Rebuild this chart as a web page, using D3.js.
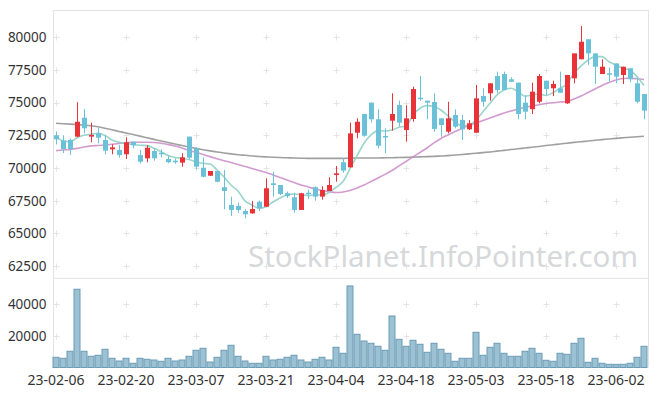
<!DOCTYPE html>
<html>
<head>
<meta charset="utf-8">
<script src="https://cdn.jsdelivr.net/npm/d3@7"></script>
<style>
  html, body { margin: 0; padding: 0; background: #fff; }
  svg { display: block; font-family: "Noto Sans", "Open Sans", sans-serif; }
</style>
</head>
<body>
<div id="chart"></div>
<script>
const dates = ["23-02-06","23-02-07","23-02-08","23-02-09","23-02-10","23-02-13","23-02-14","23-02-15","23-02-16","23-02-17",
  "23-02-20","23-02-21","23-02-22","23-02-23","23-02-24","23-02-27","23-02-28","23-03-02","23-03-03","23-03-06",
  "23-03-07","23-03-08","23-03-09","23-03-10","23-03-13","23-03-14","23-03-15","23-03-16","23-03-17","23-03-20",
  "23-03-21","23-03-22","23-03-23","23-03-24","23-03-27","23-03-28","23-03-29","23-03-30","23-03-31","23-04-03",
  "23-04-04","23-04-05","23-04-06","23-04-07","23-04-10","23-04-11","23-04-12","23-04-13","23-04-14","23-04-17",
  "23-04-18","23-04-19","23-04-20","23-04-21","23-04-24","23-04-25","23-04-26","23-04-27","23-04-28","23-05-02",
  "23-05-03","23-05-04","23-05-08","23-05-09","23-05-10","23-05-11","23-05-12","23-05-15","23-05-16","23-05-17",
  "23-05-18","23-05-19","23-05-22","23-05-23","23-05-24","23-05-25","23-05-26","23-05-30","23-05-31","23-06-01",
  "23-06-02","23-06-05","23-06-07","23-06-08","23-06-09"];

const open = [72500,72100,72150,72400,73850,72400,72650,72140,71430,71380,
  71050,72010,70990,70740,71300,71170,70690,70560,70410,72400,
  71510,70020,69410,69770,68530,67170,67100,66710,66530,67420,
  67040,68830,68700,68070,67760,66790,68110,68530,67810,68240,
  69460,70440,70050,72700,74130,75000,73730,72450,73620,74820,
  72910,73750,75380,75150,75050,73800,72780,74060,73670,72960,
  72700,75510,75720,77040,77190,76790,76530,75000,74500,75070,
  76680,76100,76100,74950,76860,78320,79850,78770,77190,77250,
  78000,77120,77630,76480,75660];
const high = [72800,72500,72250,75030,74500,73470,73080,72530,71810,71760,
  72350,72010,71380,71760,71500,71430,70940,70740,71130,72400,
  71600,70790,69770,69800,69850,67800,67350,66840,67480,67500,
  69210,69720,68700,68200,68110,68100,68330,68600,68600,69290,
  70150,70750,73470,73800,74130,75000,74490,73040,75720,75150,
  74800,76220,77040,75150,75720,73800,75070,74490,74060,73670,
  76350,76100,76480,77370,77370,76940,76530,75560,76530,77190,
  76680,76680,77370,77120,78770,80860,79850,78770,78320,77700,
  78000,77750,77630,76860,75660];
const low = [71800,71150,71000,72350,72650,71970,71890,71050,71050,70790,
  70690,71500,70360,70440,70560,70800,70360,70330,70100,70670,
  69900,69290,69400,68900,66840,66330,66560,66150,66500,66710,
  67040,67800,67930,67700,66580,66790,67640,67500,67580,68240,
  68950,69640,70050,72270,72400,73500,71510,71130,72860,73160,
  72010,73540,75150,73730,72780,72400,72650,73040,72140,72910,
  72700,74690,75150,75720,75970,76600,73730,73730,74130,74950,
  75560,75500,75760,74900,76480,78320,77890,76430,77190,76600,
  76480,76430,76560,74950,73730];
const close = [72200,71450,71450,73540,73040,72530,72320,71330,71580,70990,
  71970,71740,70480,71550,70740,71050,70440,70440,70820,70790,
  70100,69330,69770,68950,68240,66790,66790,66460,66860,66920,
  68450,68700,68010,67860,66790,68070,68010,67810,68320,68700,
  69590,69800,72650,73540,72470,73730,71710,72350,74130,73470,
  73800,76040,75280,75000,72990,73290,73800,73160,72960,73420,
  75330,75070,76480,75970,75970,76600,74130,74310,75840,77040,
  76040,76430,75760,77120,78770,79660,78770,77750,77750,77190,
  76990,77750,76790,75070,74390];

const volume = [6480,5840,10290,49650,10290,7110,7750,11560,5840,4130,
  5840,2670,5840,5210,4760,3940,5840,4130,4760,7110,
  10920,12190,3490,6480,10920,14100,7110,4130,2670,2670,
  7110,4760,5210,6480,7750,4760,3490,5210,6480,4760,
  12820,9020,51750,21080,16830,15360,13460,10920,32700,17900,
  13460,17270,14730,9650,15360,11560,9020,3940,5840,5840,
  22350,7750,12820,15360,9020,7110,7110,10290,12190,9020,
  4570,3940,9020,8380,15360,18540,3300,5840,2670,2030,
  2030,2030,2670,6480,13460];

const ma5 = [72340,72070,72010,72320,72500,72580,72660,72490,72140,71970,
  71880,71800,71740,71710,71510,71250,70960,70810,70730,70650,
  70480,70360,70310,69850,69310,68700,68240,67480,67170,66920,
  67040,67400,67710,67940,68010,67970,67900,67940,67940,68130,
  68510,68970,69960,70920,71890,72530,72860,72830,72910,73120,
  73190,74060,74570,74770,74690,74440,73980,73540,73210,73290,
  73670,74310,74950,75590,75970,76100,75840,75490,75590,75660,
  75550,75760,76100,76430,77270,77800,78260,78520,78520,78130,
  77880,77630,77500,76990,76310];
const ma20 = [71330,71380,71420,71500,71610,71690,71720,71760,71820,71880,
  71930,71970,71970,71970,71950,71890,71800,71690,71530,71340,
  71190,71040,70870,70710,70560,70420,70270,70120,69970,69810,
  69660,69470,69280,69090,68890,68700,68550,68400,68280,68190,
  68130,68170,68280,68470,68700,68970,69240,69510,69810,70160,
  70500,70850,71190,71530,71920,72260,72530,72800,73030,73260,
  73450,73640,73830,74020,74210,74360,74520,74630,74750,74840,
  74940,74990,75050,75090,75280,75510,75780,76050,76320,76540,
  76740,76850,76870,76830,76770];
const ma60 = [73420,73390,73360,73320,73280,73230,73150,73040,72920,72800,
  72680,72560,72440,72310,72190,72070,71950,71830,71720,71610,
  71500,71400,71310,71230,71150,71080,71020,70970,70920,70880,
  70850,70820,70800,70780,70760,70750,70740,70740,70740,70740,
  70740,70740,70750,70760,70760,70770,70770,70780,70790,70800,
  70810,70830,70850,70870,70890,70920,70950,70990,71030,71080,
  71130,71180,71230,71290,71350,71410,71470,71530,71590,71650,
  71720,71780,71840,71900,71960,72010,72070,72120,72170,72220,
  72270,72310,72350,72390,72430];

const priceTicks = [62500,65000,67500,70000,72500,75000,77500,80000];
const volumeTicks = [20000,40000];
const dateTicks = ["23-02-06","23-02-20","23-03-07","23-03-21","23-04-04","23-04-18","23-05-03","23-05-18","23-06-02"];

const width = 657, height = 396;
const left = 52.5, right = 647.5;
const priceTop = 10, priceBottom = 277;
const volTop = 278.3, volBottom = 367.5;

const upColor = "#ea3338", downColor = "#6ac1d8";

const svg = d3.select("#chart").append("svg")
  .attr("width", width)
  .attr("height", height);

const x = d3.scaleBand().domain(dates).range([left, right]).padding(0);
const cx = d => x(d) + x.bandwidth() / 2;
const y = d3.scaleLinear().domain([61660, 82090]).range([priceBottom, priceTop]);
const yv = d3.scaleLinear().domain([0, 56600]).range([volBottom, volTop]);

// watermark
svg.append("text")
  .attr("x", 638).attr("y", 267)
  .attr("text-anchor", "end")
  .attr("font-size", 29.5)
  .attr("fill", "#d6d8da")
  .text("StockPlanet.InfoPointer.com");

// frame lines
const frame = svg.append("g").attr("stroke", "#e3e3e3").attr("stroke-width", 1).attr("fill", "none");
frame.append("line").attr("x1", 53.5).attr("x2", 53.5).attr("y1", priceTop).attr("y2", volBottom);
frame.append("line").attr("x1", 648.5).attr("x2", 648.5).attr("y1", priceTop).attr("y2", volBottom);
frame.append("line").attr("x1", 53.5).attr("x2", 648.5).attr("y1", priceTop + 0.5).attr("y2", priceTop + 0.5);
frame.append("line").attr("x1", 53.5).attr("x2", 648.5).attr("y1", volTop).attr("y2", volTop);

// grid crosses
const crosses = svg.append("g").attr("stroke", "#e4e4e4").attr("stroke-width", 1);
function cross(px, py) {
  crosses.append("line").attr("x1", px - 3).attr("x2", px + 3).attr("y1", py).attr("y2", py);
  crosses.append("line").attr("x1", px).attr("x2", px).attr("y1", py - 3).attr("y2", py + 3);
}
dateTicks.forEach(d => {
  priceTicks.forEach(p => cross(Math.round(cx(d)) + 0.5, Math.round(y(p)) + 0.5));
  volumeTicks.forEach(v => cross(Math.round(cx(d)) + 0.5, Math.round(yv(v)) + 0.5));
});

// axes labels
const yAxis = d3.axisLeft(y).tickValues(priceTicks).tickSize(0).tickPadding(6).tickFormat(d3.format("d"));
svg.append("g").attr("transform", `translate(${left},0)`).call(yAxis)
  .call(g => g.select(".domain").remove())
  .call(g => g.selectAll("text").attr("font-size", 13.5).attr("fill", "#333").attr("font-family", "Noto Sans"));

const yvAxis = d3.axisLeft(yv).tickValues(volumeTicks).tickSize(0).tickPadding(6).tickFormat(d3.format("d"));
svg.append("g").attr("transform", `translate(${left},0)`).call(yvAxis)
  .call(g => g.select(".domain").remove())
  .call(g => g.selectAll("text").attr("font-size", 13.5).attr("fill", "#333").attr("font-family", "Noto Sans"));

const xAxis = d3.axisBottom(x).tickValues(dateTicks).tickSize(0).tickPadding(8);
svg.append("g").attr("transform", `translate(0,${volBottom})`).call(xAxis)
  .call(g => g.select(".domain").remove())
  .call(g => g.selectAll("text").attr("font-size", 14).attr("fill", "#333").attr("font-family", "Noto Sans"));

// volume bars
svg.append("g").selectAll("rect").data(dates).join("rect")
  .attr("x", d => x(d) + 0.5)
  .attr("width", x.bandwidth() - 1)
  .attr("y", (d, i) => yv(volume[i]))
  .attr("height", (d, i) => volBottom - yv(volume[i]))
  .attr("fill", "#9cc1d2")
  .attr("stroke", "#6a9cb6")
  .attr("stroke-width", 1);

// moving averages
const line = arr => d3.line().x((d, i) => cx(dates[i])).y(d => y(d)).curve(d3.curveMonotoneX)(arr);
svg.append("path").attr("d", line(ma60)).attr("fill", "none").attr("stroke", "#8f8f8f").attr("stroke-width", 1.6).attr("opacity", 0.85);
svg.append("path").attr("d", line(ma20)).attr("fill", "none").attr("stroke", "#c98ac6").attr("stroke-width", 1.6).attr("opacity", 0.85);
svg.append("path").attr("d", line(ma5)).attr("fill", "none").attr("stroke", "#8fd0c6").attr("stroke-width", 1.6).attr("opacity", 0.9);

// candles
const candles = svg.append("g").selectAll("g").data(dates).join("g");
candles.append("line")
  .attr("x1", d => Math.round(cx(d)) + 0.5)
  .attr("x2", d => Math.round(cx(d)) + 0.5)
  .attr("y1", (d, i) => y(high[i]))
  .attr("y2", (d, i) => y(low[i]))
  .attr("stroke", (d, i) => close[i] >= open[i] ? upColor : downColor)
  .attr("stroke-width", 1);
candles.append("rect")
  .attr("x", d => Math.round(cx(d)) - 2)
  .attr("width", 5)
  .attr("y", (d, i) => y(Math.max(open[i], close[i])))
  .attr("height", (d, i) => Math.max(1.5, Math.abs(y(open[i]) - y(close[i]))))
  .attr("fill", (d, i) => close[i] >= open[i] ? upColor : downColor);
</script>
</body>
</html>
